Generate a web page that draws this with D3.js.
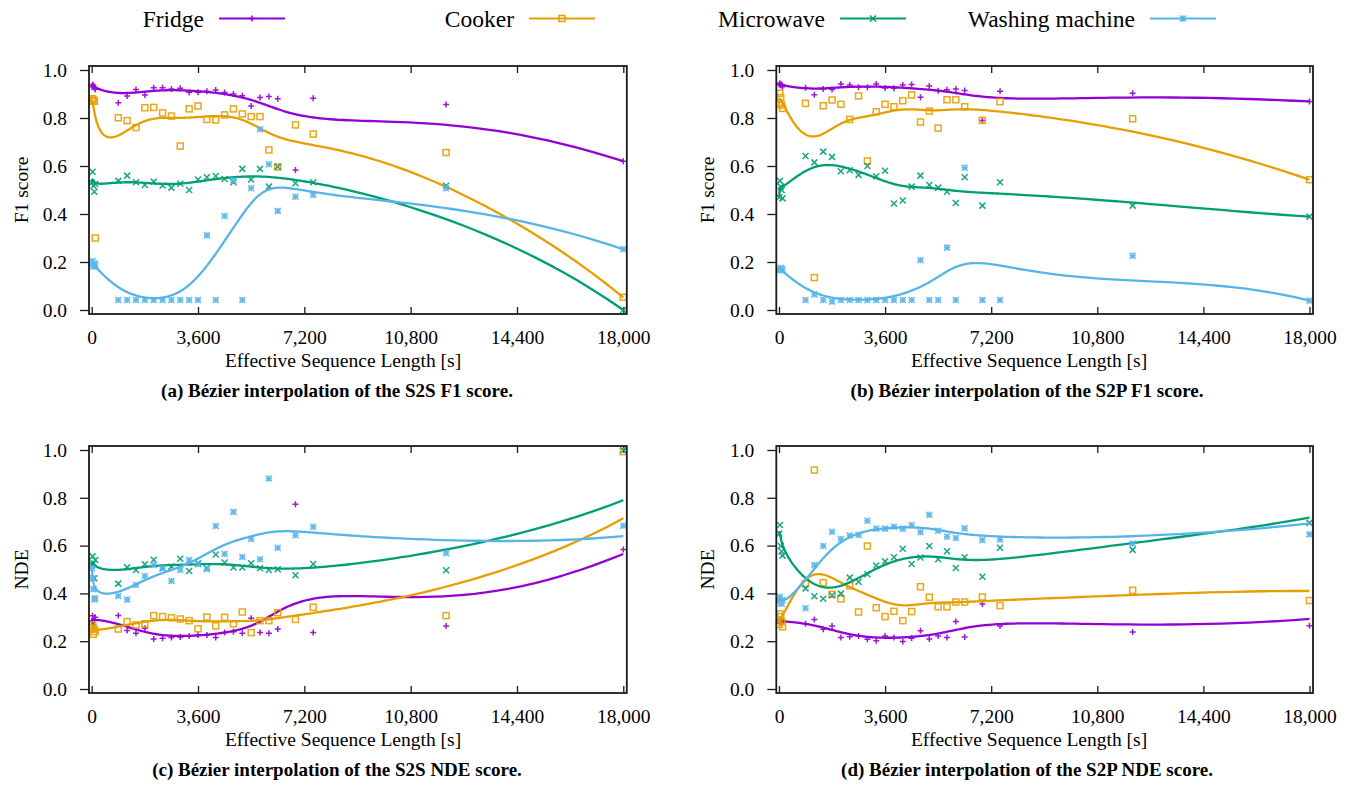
<!DOCTYPE html>
<html><head><meta charset="utf-8">
<script src="https://cdn.jsdelivr.net/npm/d3@7"></script>
<style>
body{margin:0;background:#fff}
svg{display:block}
text{font-family:"Liberation Serif","Times New Roman",serif;fill:#000}
</style>
</head><body>
<svg id="chart" width="1349" height="790"></svg>
<script>
// ---------------- DATA ----------------
const seqLen = [10, 30, 60, 90, 120, 900, 1200, 1500, 1800, 2100, 2400, 2700, 3000, 3300, 3600,
  3900, 4200, 4500, 4800, 5100, 5400, 5700, 6000, 6300, 6900, 7500, 12000, 18000];
const xTickValues = [0, 3600, 7200, 10800, 14400, 18000];
const yTickValues = [0, 0.2, 0.4, 0.6, 0.8, 1.0];
const appliances = ["Fridge", "Cooker", "Microwave", "Washing machine"];

// (a) S2S F1
const fridgeS2SF1 = [0.93, 0.94, 0.935, 0.925, 0.92, 0.864, 0.892, 0.919, 0.896, 0.926, 0.926, 0.921, 0.924, 0.907, 0.907, 0.911, 0.917, 0.906, 0.900, 0.893, 0.850, 0.885, 0.890, 0.880, 0.583, 0.882, 0.856, 0.620];
const cookerS2SF1 = [0.87, 0.88, 0.875, 0.87, 0.30, 0.801, 0.789, 0.760, 0.843, 0.844, 0.821, 0.808, 0.683, 0.838, 0.850, 0.794, 0.792, 0.813, 0.838, 0.817, 0.806, 0.806, 0.667, 0.596, 0.771, 0.733, 0.656, 0.053];
const microwaveS2SF1 = [0.53, 0.576, 0.518, 0.493, 0.525, 0.538, 0.560, 0.532, 0.521, 0.535, 0.519, 0.510, 0.526, 0.500, 0.544, 0.553, 0.558, 0.546, 0.532, 0.588, 0.544, 0.588, 0.514, 0.597, 0.528, 0.532, 0.518, 0.0];
const washingS2SF1 = [0.19, 0.204, 0.18, 0.194, 0.188, 0.042, 0.042, 0.042, 0.042, 0.042, 0.042, 0.042, 0.042, 0.042, 0.042, 0.311, 0.042, 0.392, 0.540, 0.042, 0.507, 0.753, 0.607, 0.413, 0.472, 0.479, 0.507, 0.253];

// (b) S2P F1
const fridgeS2PF1 = [0.94, 0.945, 0.935, 0.94, 0.93, 0.926, 0.897, 0.921, 0.919, 0.942, 0.938, 0.928, 0.928, 0.942, 0.925, 0.924, 0.938, 0.940, 0.886, 0.933, 0.914, 0.918, 0.921, 0.915, 0.790, 0.911, 0.903, 0.869];
const cookerS2PF1 = [0.86, 0.903, 0.885, 0.854, 0.84, 0.861, 0.135, 0.851, 0.875, 0.857, 0.794, 0.892, 0.621, 0.826, 0.857, 0.847, 0.872, 0.896, 0.783, 0.829, 0.758, 0.876, 0.876, 0.847, 0.790, 0.868, 0.797, 0.543];
const microwaveS2PF1 = [0.47, 0.538, 0.514, 0.50, 0.465, 0.642, 0.615, 0.660, 0.638, 0.578, 0.582, 0.563, 0.600, 0.557, 0.580, 0.444, 0.456, 0.514, 0.560, 0.521, 0.510, 0.493, 0.446, 0.553, 0.435, 0.532, 0.435, 0.389];
const washingS2PF1 = [0.17, 0.165, 0.175, 0.17, 0.168, 0.042, 0.065, 0.042, 0.035, 0.042, 0.042, 0.042, 0.042, 0.042, 0.042, 0.042, 0.042, 0.042, 0.207, 0.042, 0.042, 0.260, 0.042, 0.593, 0.042, 0.042, 0.226, 0.039];

// (c) S2S NDE
const fridgeS2SNDE = [0.285, 0.307, 0.27, 0.29, 0.30, 0.308, 0.245, 0.233, 0.254, 0.209, 0.212, 0.215, 0.218, 0.222, 0.226, 0.226, 0.216, 0.236, 0.240, 0.233, 0.296, 0.236, 0.233, 0.251, 0.773, 0.236, 0.264, 0.584];
const cookerS2SNDE = [0.257, 0.268, 0.229, 0.25, 0.24, 0.251, 0.282, 0.268, 0.273, 0.307, 0.303, 0.298, 0.293, 0.286, 0.252, 0.301, 0.264, 0.300, 0.273, 0.322, 0.236, 0.286, 0.286, 0.319, 0.291, 0.342, 0.307, 0.993];
const microwaveS2SNDE = [0.52, 0.555, 0.526, 0.463, 0.54, 0.441, 0.509, 0.498, 0.522, 0.541, 0.505, 0.512, 0.545, 0.494, 0.526, 0.505, 0.563, 0.529, 0.508, 0.508, 0.526, 0.505, 0.498, 0.501, 0.476, 0.523, 0.497, 0.999];
const washingS2SNDE = [0.505, 0.463, 0.418, 0.375, 0.38, 0.389, 0.374, 0.435, 0.473, 0.519, 0.505, 0.452, 0.498, 0.540, 0.522, 0.502, 0.682, 0.565, 0.741, 0.552, 0.628, 0.543, 0.881, 0.591, 0.643, 0.679, 0.568, 0.683];
const curveEndS2SNDE = [0.565, 0.714, 0.79, 0.64];

// (d) S2P NDE
const fridgeS2PNDE = [0.289, 0.275, 0.29, 0.28, 0.285, 0.273, 0.291, 0.250, 0.264, 0.216, 0.219, 0.222, 0.208, 0.202, 0.222, 0.216, 0.199, 0.212, 0.244, 0.209, 0.222, 0.216, 0.282, 0.218, 0.356, 0.264, 0.238, 0.265];
const cookerS2PNDE = [0.27, 0.314, 0.303, 0.282, 0.26, 0.441, 0.916, 0.445, 0.396, 0.377, 0.432, 0.322, 0.598, 0.340, 0.303, 0.325, 0.286, 0.324, 0.428, 0.384, 0.344, 0.344, 0.364, 0.364, 0.385, 0.349, 0.413, 0.370];
const microwaveS2PNDE = [0.65, 0.686, 0.598, 0.575, 0.558, 0.421, 0.388, 0.378, 0.392, 0.399, 0.466, 0.449, 0.480, 0.517, 0.534, 0.551, 0.587, 0.523, 0.550, 0.598, 0.543, 0.576, 0.506, 0.551, 0.470, 0.591, 0.582, 0.695];
const washingS2PNDE = [0.37, 0.386, 0.361, 0.356, 0.372, 0.338, 0.519, 0.598, 0.658, 0.628, 0.642, 0.644, 0.704, 0.671, 0.671, 0.679, 0.671, 0.686, 0.656, 0.729, 0.662, 0.637, 0.632, 0.672, 0.622, 0.626, 0.609, 0.647];
const curveEndS2PNDE = [0.293, 0.41, 0.717, 0.693];

const captions = [
  "(a) Bézier interpolation of the S2S F1 score.",
  "(b) Bézier interpolation of the S2P F1 score.",
  "(c) Bézier interpolation of the S2S NDE score.",
  "(d) Bézier interpolation of the S2P NDE score."
];
const yTitles = ["F1 score", "F1 score", "NDE", "NDE"];
const xTitle = "Effective Sequence Length [s]";

// ---------------- STYLE / LAYOUT ----------------
const colors = ["#9400d3", "#e69f00", "#009e73", "#56b4e9"];
const markerTypes = ["plus", "square", "cross", "star"];
const FONT = '"Liberation Serif","Times New Roman",serif';
const colRange = [[91.7, 623.3], [779, 1309.5]];
const rowRange = [[310, 70], [689, 450]];
const rowShift = [0, 379];
const titleCenter = [343, 1029];
const captionCenter = [337, 1027];

const panels = [
  {col: 0, row: 0, series: [fridgeS2SF1, cookerS2SF1, microwaveS2SF1, washingS2SF1], end: null},
  {col: 1, row: 0, series: [fridgeS2PF1, cookerS2PF1, microwaveS2PF1, washingS2PF1], end: null},
  {col: 0, row: 1, series: [fridgeS2SNDE, cookerS2SNDE, microwaveS2SNDE, washingS2SNDE], end: curveEndS2SNDE},
  {col: 1, row: 1, series: [fridgeS2PNDE, cookerS2PNDE, microwaveS2PNDE, washingS2PNDE], end: curveEndS2PNDE}
];

const svg = d3.select("#chart");

function marker(g, type, cx, cy, color, s) {
  s = s || 3;
  if (type === "square") {
    g.append("rect").attr("x", cx - s).attr("y", cy - s).attr("width", 2 * s).attr("height", 2 * s)
      .attr("fill", "none").attr("stroke", color).attr("stroke-width", 1.5);
    return;
  }
  let d = "";
  if (type === "plus" || type === "star") d += `M${cx - s},${cy}H${cx + s}M${cx},${cy - s}V${cy + s}`;
  if (type === "cross" || type === "star") d += `M${cx - s},${cy - s}L${cx + s},${cy + s}M${cx - s},${cy + s}L${cx + s},${cy - s}`;
  g.append("path").attr("d", d).attr("stroke", color).attr("stroke-width", 1.5).attr("fill", "none");
}

function bezierPoints(pts, n) {
  const out = [];
  for (let k = 0; k <= n; k++) {
    const t = k / n;
    const p = pts.map(q => [q[0], q[1]]);
    for (let r = p.length - 1; r > 0; r--) {
      for (let i = 0; i < r; i++) {
        p[i][0] = p[i][0] + (p[i + 1][0] - p[i][0]) * t;
        p[i][1] = p[i][1] + (p[i + 1][1] - p[i][1]) * t;
      }
    }
    out.push(p[0]);
  }
  return out;
}

panels.forEach((P, pi) => {
  const x = d3.scaleLinear().domain([0, 18000]).range(colRange[P.col]);
  const y = d3.scaleLinear().domain([0, 1]).range(rowRange[P.row]);
  const g = svg.append("g");
  const bl = x(0) - 2.7, br = x(18000) + 3.5, bt = y(1) - 4, bb = y(0) + 4;

  // axes
  const gb = g.append("g").attr("transform", `translate(0,${bb})`)
    .call(d3.axisBottom(x).tickValues(xTickValues).tickSize(-7).tickPadding(16).tickFormat(d3.format(",")));
  const gt = g.append("g").attr("transform", `translate(0,${bt})`)
    .call(d3.axisTop(x).tickValues(xTickValues).tickSize(-7).tickFormat(""));
  const gl = g.append("g").attr("transform", `translate(${bl},0)`)
    .call(d3.axisLeft(y).tickValues(yTickValues).tickSize(9).tickPadding(13).tickFormat(d3.format(".1f")));
  [gb, gt, gl].forEach(a => {
    a.select(".domain").remove();
    a.attr("font-family", FONT).attr("font-size", 19.5).attr("color", "#1a1a1a");
    a.selectAll(".tick line").attr("stroke-width", 1.3);
  });

  // series
  P.series.forEach((vals, si) => {
    const col = colors[si];
    const pts = seqLen.map((s, i) => [s, vals[i]]);
    const gp = g.append("g").attr("opacity", 0.9);
    pts.forEach(p => marker(gp, markerTypes[si], x(p[0]), y(p[1]), col, 3));
    const ctrl = pts.map(p => [p[0], p[1]]);
    if (P.end) ctrl[ctrl.length - 1][1] = P.end[si];
    const curve = bezierPoints(ctrl, 300);
    g.append("path").datum(curve)
      .attr("d", d3.line().x(d => x(d[0])).y(d => y(d[1])))
      .attr("fill", "none").attr("stroke", col).attr("stroke-width", 2.3)
      .attr("stroke-linejoin", "round");
  });

  // border
  g.append("rect").attr("x", bl).attr("y", bt).attr("width", br - bl).attr("height", bb - bt)
    .attr("fill", "none").attr("stroke", "#1a1a1a").attr("stroke-width", 1.8);

  // titles
  const yc = (y(0) + y(1)) / 2;
  g.append("text").attr("transform", `translate(${P.col === 0 ? 28 : 714},${yc}) rotate(-90)`)
    .attr("text-anchor", "middle").attr("font-size", 19.5).text(yTitles[pi]);
  g.append("text").attr("x", titleCenter[P.col]).attr("y", 367 + rowShift[P.row])
    .attr("text-anchor", "middle").attr("font-size", 19.5).text(xTitle);
  g.append("text").attr("x", captionCenter[P.col]).attr("y", 397 + rowShift[P.row])
    .attr("text-anchor", "middle").attr("font-size", 19).attr("font-weight", "bold").text(captions[pi]);
});

// legend
const legendLineStart = [219, 529, 840, 1150];
const lg = svg.append("g");
appliances.forEach((name, i) => {
  const xs = legendLineStart[i];
  lg.append("text").attr("x", xs - 15).attr("y", 27).attr("text-anchor", "end")
    .attr("font-size", 23.5).text(name);
  lg.append("line").attr("x1", xs).attr("x2", xs + 66).attr("y1", 18.5).attr("y2", 18.5)
    .attr("stroke", colors[i]).attr("stroke-width", 2);
  marker(lg, markerTypes[i], xs + 33, 18.5, colors[i], 3);
});
</script>
</body></html>
